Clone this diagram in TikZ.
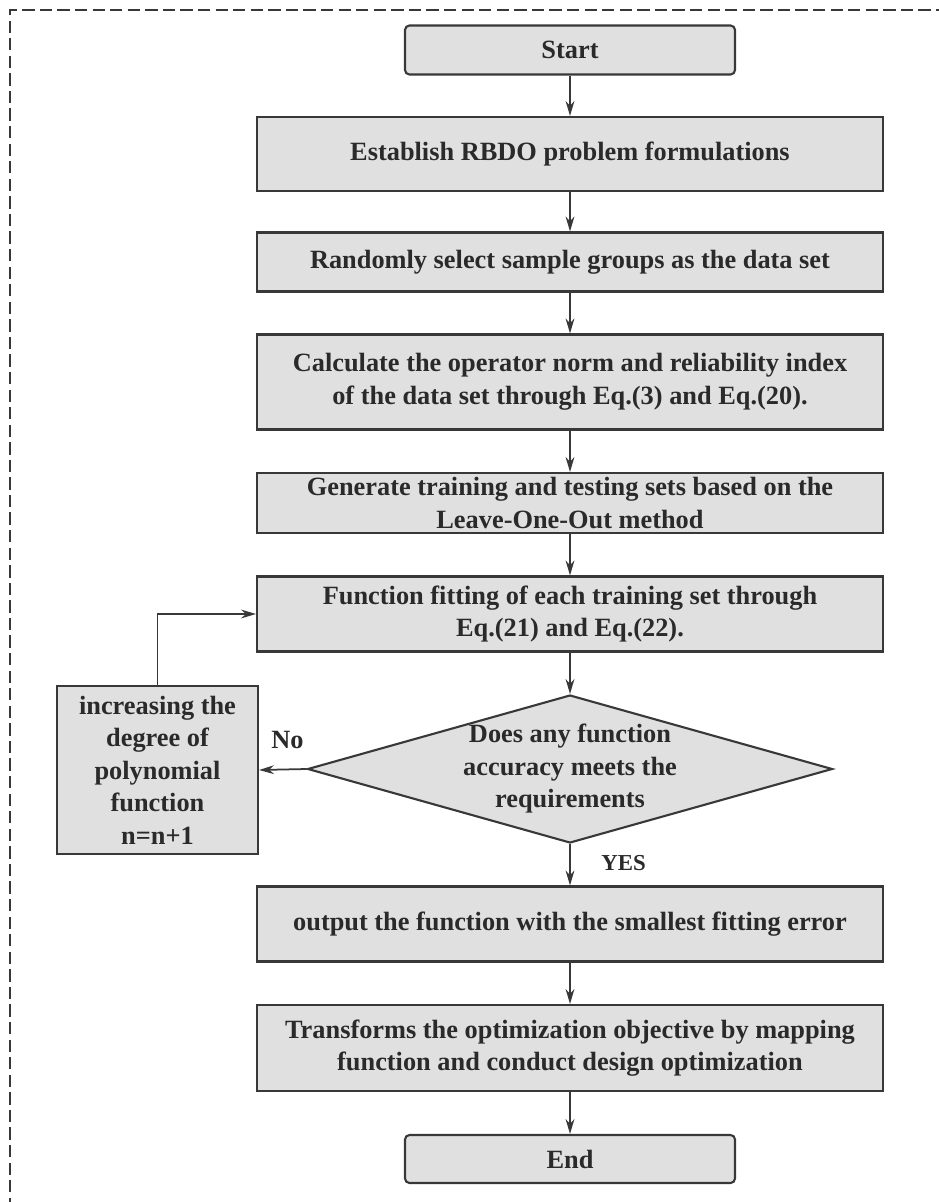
\documentclass[tikz,border=0pt]{standalone}
\usepackage{fontspec}
\setmainfont{Liberation Serif}
\usetikzlibrary{shapes.geometric,arrows.meta}

\definecolor{boxfill}{HTML}{E0E0E0}
\definecolor{boxline}{HTML}{383838}
\definecolor{textgray}{HTML}{2A2A2A}

\tikzset{
  every node/.style={font=\bfseries\fontsize{15}{18.5}\selectfont, text=textgray},
  flowbox/.style={draw=boxline, fill=boxfill, line width=1.2pt, align=center,
    inner sep=2pt, minimum width=12.52cm},
  termbox/.style={flowbox, rounded corners=2.5pt, minimum width=6.6cm},
  flowarrow/.style={->, draw=boxline, line width=1pt},
}

\begin{document}
\begin{tikzpicture}[x=0.02cm, y=-0.02cm, >={Stealth[length=8.5pt,width=5pt]}]

  \useasboundingbox (0,0) rectangle (938,1202);

  % Frame
  \draw[boxline, line width=0.8pt, dash pattern=on 7pt off 3pt]
    (10,1210) -- (10,10) -- (945,10);

  % Main column
  \node[termbox, minimum height=0.98cm] (start) at (570,50) {Start};
  \node[flowbox, minimum height=1.48cm] (estab) at (570,154)
    {Establish RBDO problem formulations};
  \node[flowbox, minimum height=1.18cm] (sample) at (570,262)
    {Randomly select sample groups as the data set};
  \node[flowbox, minimum height=1.9cm] (calc) at (570,382)
    {Calculate the operator norm and reliability index\\
     of the data set through Eq.(3) and Eq.(20).};
  \node[flowbox, minimum height=1.2cm, inner sep=1pt] (gen) at (570,503)
    {Generate training and testing sets based on the\\
     Leave-One-Out method};
  \node[flowbox, minimum height=1.5cm] (fit) at (570,614)
    {Function fitting of each training set through\\
     Eq.(21) and Eq.(22).};

  % Decision
  \node[diamond, draw=boxline, fill=boxfill, line width=1.2pt, inner sep=0pt,
    minimum width=10.5cm, minimum height=2.96cm] (check) at (570,769) {};
  \node[align=center] (checktext) at (check.center)
    {Does any function\\ accuracy meets the\\ requirements};

  \node[flowbox, minimum width=4.02cm, minimum height=3.36cm] (degree) at (157.5,770)
    {increasing the\\ degree of\\ polynomial\\ function\\ n=n+1};

  \node[flowbox, minimum height=1.5cm] (output) at (570,924)
    {output the function with the smallest fitting error};
  \node[flowbox, minimum height=1.72cm] (trans) at (570,1048)
    {Transforms the optimization objective by mapping\\
     function and conduct design optimization};
  \node[termbox, minimum height=0.96cm] (end) at (570,1159) {End};

  % Connectors
  \draw[flowarrow] (start) -- (estab);
  \draw[flowarrow] (estab) -- (sample);
  \draw[flowarrow] (sample) -- (calc);
  \draw[flowarrow] (calc) -- (gen);
  \draw[flowarrow] (gen) -- (fit);
  \draw[flowarrow] (fit) -- (check);
  \draw[flowarrow] (check) -- node[right=14pt, pos=0.45, font=\bfseries\fontsize{13}{15}\selectfont] (yes) {YES} (output);
  \draw[flowarrow] (check.west) -- node[above=8pt, pos=0.4] (no) {No} (degree.east);
  \draw[flowarrow] (degree.north) |- (fit.west);
  \draw[flowarrow] (output) -- (trans);
  \draw[flowarrow] (trans) -- (end);

\end{tikzpicture}
\end{document}
